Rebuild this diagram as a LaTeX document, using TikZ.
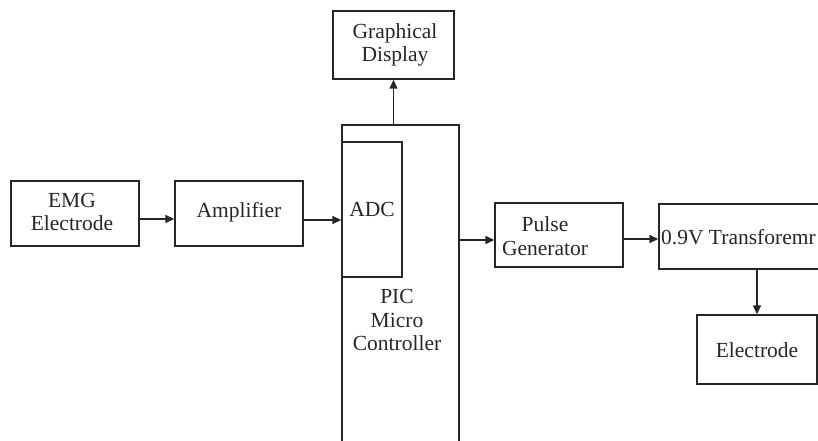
\documentclass[tikz,border=0pt]{standalone}
\usepackage{fontspec}
\setmainfont{Liberation Serif}
\usetikzlibrary{arrows.meta}
\begin{document}
\begin{tikzpicture}[x=1pt,y=-1pt,
  box/.style={draw=black!85,line width=1.4pt,rectangle,inner sep=0pt},
  txt/.style={inner sep=0pt,align=center,font=\fontsize{21.5}{23.5}\selectfont,text=black!85},
  arr/.style={draw=black!85,line width=1.4pt,-{Triangle[length=9pt,width=8pt]}}]
\useasboundingbox (0,0) rectangle (818,441);
\clip (0,0) rectangle (818,441);
% boxes
\node[box,minimum width=128pt,minimum height=65pt] (emg) at (75,213.5) {};
\node[txt] (emgt) at (72,212) {EMG\\Electrode};
\node[box,minimum width=128pt,minimum height=65pt] (amp) at (239,213.5) {};
\node[txt] (ampt) at (239,212) {Amplifier};
\node[box,minimum width=117pt,minimum height=330pt] (pic) at (400.5,290) {};
\node[box,minimum width=60pt,minimum height=135pt] (adc) at (372,209.5) {};
\node[txt] (adct) at (372,209) {ADC};
\node[txt] (pict) at (397,320) {PIC\\Micro\\Controller};
\node[box,minimum width=121pt,minimum height=68pt] (disp) at (393.5,45) {};
\node[txt] (dispt) at (395,45) {Graphical\\Display};
\node[box,minimum width=128pt,minimum height=64pt] (pulse) at (559,235) {};
\node[txt] (pulset) at (545,236) {Pulse\\Generator};
\node[box,minimum width=180pt,minimum height=65pt] (trans) at (749,236.5) {};
\node[txt,anchor=west] (transt) at (661,237) {0.9V Transforemr};
\node[box,minimum width=120pt,minimum height=69pt] (elec) at (757,349.5) {};
\node[txt] (elect) at (757,350) {Electrode};
% connectors
\draw[arr] ([yshift=-5.5pt]emg.east) -- ([yshift=-5.5pt]amp.west);
\draw[arr] ([yshift=-6.5pt]amp.east) -- ([yshift=-6.5pt]amp.east -| adc.west);
\draw[arr] (disp.south |- pic.north) -- (disp.south);
\draw[arr] ([yshift=-5pt]pic.east |- pulse.west) -- ([yshift=-5pt]pulse.west);
\draw[arr] ([yshift=-4pt]pulse.east) -- ([yshift=-4pt]pulse.east -| trans.west);
\draw[arr] (elec.north |- trans.south) -- (elec.north);
\end{tikzpicture}
\end{document}
